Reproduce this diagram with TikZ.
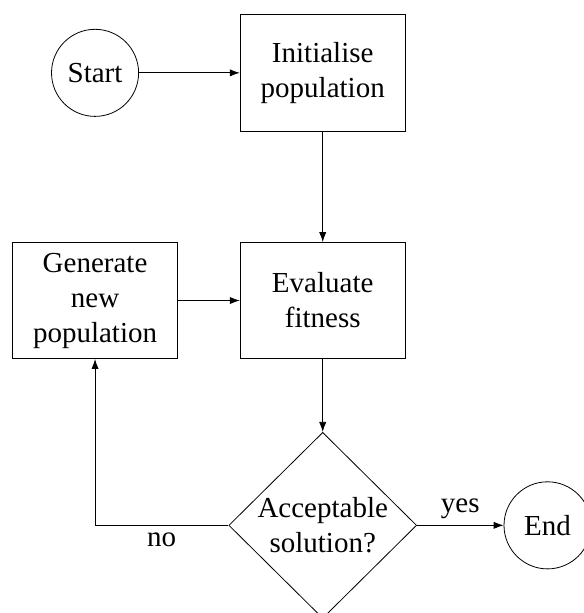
\documentclass[tikz,border=0pt]{standalone}
\usepackage{fontspec}
\setmainfont{Liberation Serif}
\usetikzlibrary{shapes.geometric,arrows.meta}

\begin{document}
\begin{tikzpicture} [align=center, font=\fontsize{14.5}{17.5}\selectfont,
  >={Latex[length=5pt,width=3.6pt]},
  term/.style={draw, circle, minimum size=1.53cm, inner sep=0pt},
  proc/.style={draw, rectangle, minimum width=2.9cm, minimum height=2.04cm},
  test/.style={draw, diamond, aspect=1, inner sep=0pt, minimum width=3.3cm, minimum height=3.25cm}]
  \useasboundingbox (-1.67,1.28) rectangle (8.59,-9.49);
  \path  (0, 0)   node[term](start)  {Start}
          ++(4, 0)   node[proc](init) {Initialise\\population}
          ++(0,-4)   node[proc](eval) {Evaluate\\fitness}
           +(-4,0)   node[proc](gen) {Generate\\new\\population}
          ++(0,-3.95) node[test](ok) {Acceptable\\solution?}
          ++(3.95,0) node[term](end) {End};
  \draw [->] (start) -- (init);
  \draw [->] (init) -- (eval);
  \draw [->] (gen) -- (eval);
  \draw [->] (eval) -- (ok);
  \draw [->] (ok) to node [pos=0.5,above]{yes} (end);
  \draw [->] (ok.west) -| node [pos=0.25,below]{no} (gen.south);
\end{tikzpicture}
\end{document}
